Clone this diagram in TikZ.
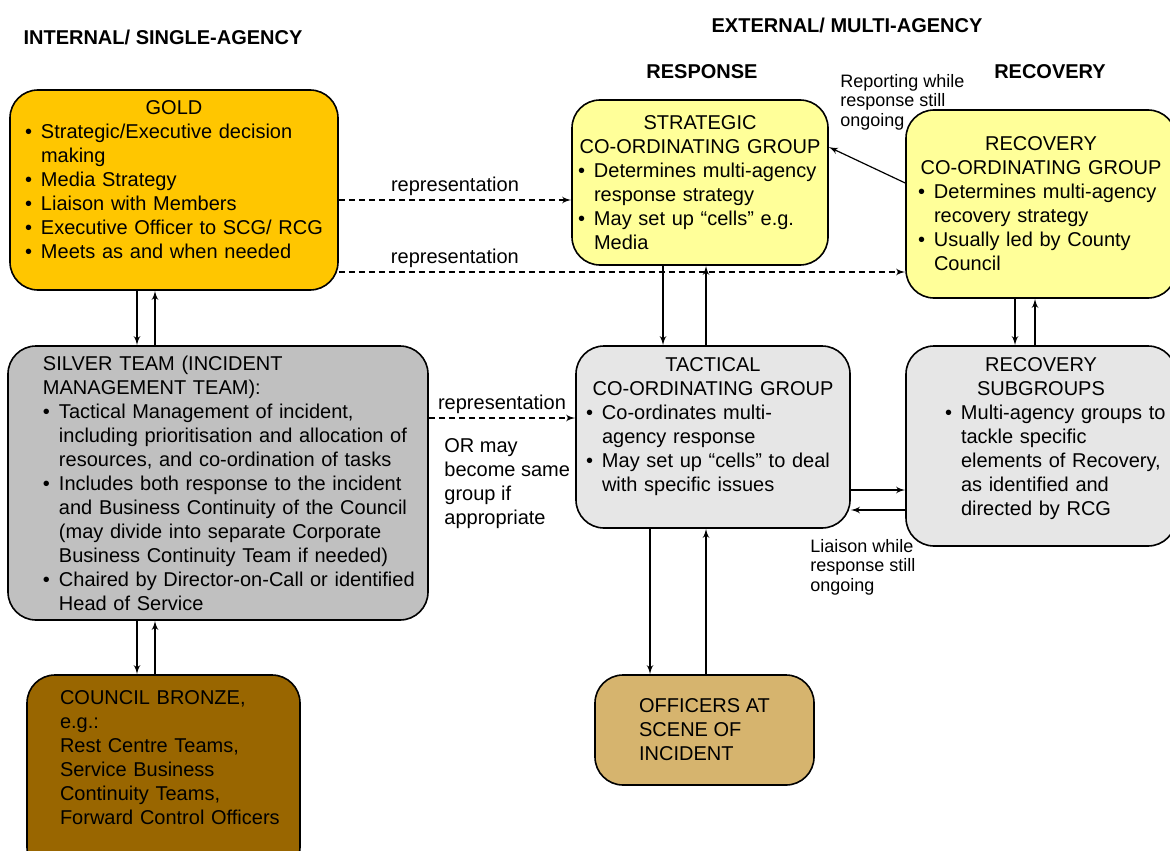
\documentclass[tikz,border=0pt]{standalone}
\usepackage{fontspec}
\setmainfont{Liberation Sans}
\usepackage{tikz}
\usetikzlibrary{shapes,arrows}
\usetikzlibrary{calc}
\definecolor{goldfill}{HTML}{FFC600}
\definecolor{paleyellow}{HTML}{FFFF99}
\definecolor{silverfill}{HTML}{C0C0C0}
\definecolor{palegray}{HTML}{E6E6E6}
\definecolor{bronzefill}{HTML}{996600}
\definecolor{tanfill}{HTML}{D6B46E}
\tikzstyle{groupbox} = [rectangle, draw, line width=0.8pt, rounded corners=14pt,
    align=left, inner xsep=1pt, font=\fontsize{10}{12}\selectfont]
\tikzstyle{heading} = [font=\bfseries\fontsize{10}{12}\selectfont]
\tikzstyle{note} = [align=left, inner sep=1pt, font=\fontsize{9}{9.75}\selectfont]
\tikzstyle{replabel} = [above, inner sep=2pt, font=\fontsize{10}{12}\selectfont]
\tikzstyle{line} = [draw, line width=0.6pt, -latex']
\tikzstyle{repline} = [draw, line width=0.6pt, dash pattern=on 3pt off 2pt, -latex']
\newcommand{\boxtitle}[1]{{\centering #1\par}}
\newcommand{\bitem}[1]{\par\noindent\hangindent=8pt\hangafter=1\makebox[8pt][l]{\textbullet}#1\par}
\newcommand{\boxpad}[1]{\par\vspace*{#1}\nointerlineskip\null}

\begin{document}
\begin{tikzpicture}[x=0.5pt, y=-0.5pt]
    \useasboundingbox (0,0) rectangle (1170,850);
    % Headings
    \node [heading] (internal) at (163,37) {INTERNAL/ SINGLE-AGENCY};
    \node [heading] (external) at (847,25) {EXTERNAL/ MULTI-AGENCY};
    \node [heading] (response) at (702,72) {RESPONSE};
    \node [heading] (recovery) at (1050,72) {RECOVERY};
    % Place nodes
    \node [groupbox, fill=goldfill, minimum width=164pt, minimum height=100pt, text width=162pt] (gold) at (174,190) {\leftskip=6.5pt
        \boxtitle{GOLD}
        \bitem{Strategic/Executive decision\newline making}
        \bitem{Media Strategy}
        \bitem{Liaison with Members}
        \bitem{Executive Officer to SCG/ RCG}
        \bitem{Meets as and when needed}\boxpad{10pt}};
    \node [groupbox, fill=paleyellow, minimum width=128pt, minimum height=82.5pt, text width=126pt] (scg) at (700,182.5) {\leftskip=2pt
        \boxtitle{STRATEGIC\\CO-ORDINATING GROUP}
        \bitem{Determines multi-agency\newline response strategy}
        \bitem{May set up ``cells'' e.g.\newline Media}};
    \node [groupbox, fill=paleyellow, minimum width=135pt, minimum height=94pt, text width=133pt] (rcg) at (1041,204) {\leftskip=5pt
        \boxtitle{RECOVERY\\CO-ORDINATING GROUP}
        \bitem{Determines multi-agency\newline recovery strategy}
        \bitem{Usually led by County\newline Council}};
    \node [groupbox, fill=silverfill, minimum width=210pt, minimum height=137pt, text width=208pt] (silver) at (218,483) {\leftskip=16.5pt
        SILVER TEAM (INCIDENT\newline MANAGEMENT TEAM):
        \bitem{Tactical Management of incident,\newline including prioritisation and allocation of\newline resources, and co-ordination of tasks}
        \bitem{Includes both response to the incident\newline and Business Continuity of the Council\newline (may divide into separate Corporate\newline Business Continuity Team if needed)}
        \bitem{Chaired by Director-on-Call or identified\newline Head of Service}};
    \node [groupbox, fill=palegray, minimum width=137pt, minimum height=91pt, text width=135pt] (tcg) at (713,437) {\leftskip=4pt
        \boxtitle{TACTICAL\\CO-ORDINATING GROUP}
        \bitem{Co-ordinates multi-\newline agency response}
        \bitem{May set up ``cells'' to deal\newline with specific issues}\boxpad{10pt}};
    \node [groupbox, fill=palegray, minimum width=135pt, minimum height=100pt, text width=133pt] (rsg) at (1041,446) {\leftskip=18.5pt
        \boxtitle{RECOVERY\\SUBGROUPS}
        \bitem{Multi-agency groups to\newline tackle specific\newline elements of Recovery,\newline as identified and\newline directed by RCG}\boxpad{7pt}};
    \node [groupbox, fill=bronzefill, minimum width=136.5pt, minimum height=100pt, text width=134.5pt] (bronze) at (163.5,775) {\leftskip=15.5pt
        COUNCIL BRONZE,\\e.g.:\\Rest Centre Teams,\\Service Business\\Continuity Teams,\\Forward Control Officers\boxpad{17pt}};
    \node [groupbox, fill=tanfill, minimum width=109.5pt, minimum height=55pt] (officers) at (704.5,730) {OFFICERS AT\\SCENE OF\\INCIDENT};
    % Notes
    \node [note, anchor=north west, font=\fontsize{10}{12}\selectfont] (ormay) at (442,436) {OR may\\become same\\group if\\appropriate};
    \node [note, anchor=north west] (reporting) at (838,72) {Reporting while\\response still\\ongoing};
    \node [note, anchor=north west] (liaison) at (808,537) {Liaison while\\response still\\ongoing};
    % Draw edges
    \path [repline] ([yshift=-5pt]gold.east) -- node[replabel] {representation} ([yshift=-5pt]gold.east -| scg.west);
    \path [repline] ([yshift=-41pt]gold.east) -- node[replabel, pos=0.205] {representation} ([yshift=-41pt]gold.east -| rcg.west);
    \path [repline] ([yshift=32.5pt]silver.east) -- node[replabel] {representation} ([yshift=32.5pt]silver.east -| tcg.west);
    \path [line] ([yshift=10.5pt]rcg.west) -- ([yshift=17.75pt]scg.east);
    \path [line] ([xshift=-18.5pt]gold.south) -- ([xshift=-18.5pt]gold.south |- silver.north);
    \path [line] ([xshift=-9.5pt]gold.south |- silver.north) -- ([xshift=-9.5pt]gold.south);
    \path [line] ([xshift=-13.25pt]bronze.north |- silver.south) -- ([xshift=-13.25pt]bronze.north);
    \path [line] ([xshift=-4.25pt]bronze.north) -- ([xshift=-4.25pt]bronze.north |- silver.south);
    \path [line] ([xshift=-25pt]tcg.north |- scg.south) -- ([xshift=-25pt]tcg.north);
    \path [line] ([xshift=-3.5pt]tcg.north) -- ([xshift=-3.5pt]tcg.north |- scg.south);
    \path [line] ([xshift=-13pt]rsg.north |- rcg.south) -- ([xshift=-13pt]rsg.north);
    \path [line] ([xshift=-3pt]rsg.north) -- ([xshift=-3pt]rsg.north |- rcg.south);
    \path [line] ([yshift=-26.5pt]tcg.east) -- ([yshift=-26.5pt]tcg.east -| rsg.west);
    \path [line] ([yshift=-36.5pt]tcg.east -| rsg.west) -- ([yshift=-36.5pt]tcg.east);
    \path [line] ([xshift=-27.25pt]officers.north |- tcg.south) -- ([xshift=-27.25pt]officers.north);
    \path [line] ([xshift=0.75pt]officers.north) -- ([xshift=0.75pt]officers.north |- tcg.south);
\end{tikzpicture}
\end{document}
